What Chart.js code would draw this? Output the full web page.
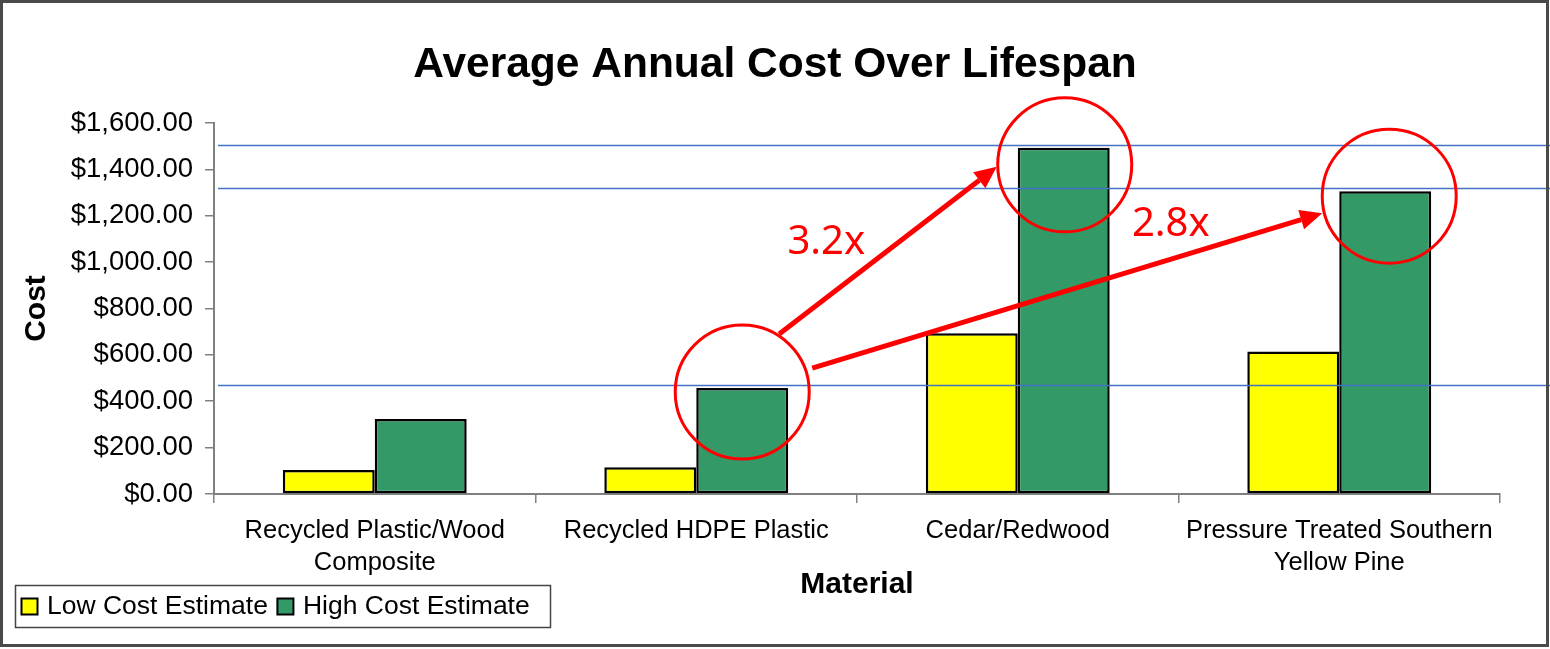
<!DOCTYPE html>
<html>
<head>
<meta charset="utf-8">
<script src="https://cdn.jsdelivr.net/npm/chart.js@4.4.1/dist/chart.umd.min.js"></script>
<style>
  html, body { margin: 0; padding: 0; background: #fff; }
  #wrap { width: 1550px; height: 649px; }
</style>
</head>
<body>
<div id="wrap"><canvas id="costChart" width="1550" height="649"></canvas></div>
<script>
// Gegevens uit de grafiek
const materials = [
    ['Recycled Plastic/Wood', 'Composite'],
    'Recycled HDPE Plastic',
    'Cedar/Redwood',
    ['Pressure Treated Southern', 'Yellow Pine']
];
const lowCost = [104, 115, 693, 615];
const highCost = [323, 457, 1493, 1306];
const seriesNames = ['Low Cost Estimate', 'High Cost Estimate'];
const yMin = 0, yMax = 1600, yStep = 200;

// Markeringen: omcirkelde balken (index in highCost) en de verhoudingen
const circledBars = [1, 2, 3];
const ratioLabels = ['3.2x', '2.8x'];

const FONT = '"Liberation Sans", Arial, sans-serif';

function money(v) {
    return '$' + v.toLocaleString('en-US', { minimumFractionDigits: 2, maximumFractionDigits: 2 });
}

function drawArrow(ctx, x1, y1, x2, y2) {
    const a = Math.atan2(y2 - y1, x2 - x1);
    const head = 22, half = 10;
    const bx = x2 - head * Math.cos(a), by = y2 - head * Math.sin(a);
    ctx.beginPath();
    ctx.moveTo(x1, y1);
    ctx.lineTo(bx, by);
    ctx.stroke();
    ctx.beginPath();
    ctx.moveTo(x2, y2);
    ctx.lineTo(bx + half * Math.sin(a), by - half * Math.cos(a));
    ctx.lineTo(bx - half * Math.sin(a), by + half * Math.cos(a));
    ctx.closePath();
    ctx.fill();
}

// Blauwe lijnen, rode cirkels, pijlen en teksten
const annotations = {
    id: 'annotations',
    afterDatasetsDraw(chart) {
        const { ctx, chartArea, scales: { y } } = chart;
        const high = chart.getDatasetMeta(1).data;
        ctx.save();

        ctx.strokeStyle = '#4472C4';
        ctx.lineWidth = 1.5;
        circledBars.forEach(i => {
            const py = Math.round(y.getPixelForValue(highCost[i])) - 2.5;
            ctx.beginPath();
            ctx.moveTo(chartArea.left + 4, py);
            ctx.lineTo(chart.width, py);
            ctx.stroke();
        });

        const shift = [[0, 4], [1, 17], [4, 5]];
        const c = circledBars.map((i, k) => ({
            x: high[i].x + shift[k][0],
            y: y.getPixelForValue(highCost[i]) + shift[k][1]
        }));

        ctx.strokeStyle = '#FF0000';
        ctx.fillStyle = '#FF0000';
        ctx.lineWidth = 3;
        c.forEach(p => {
            ctx.beginPath();
            ctx.arc(p.x, p.y, 67, 0, Math.PI * 2);
            ctx.stroke();
        });

        ctx.lineWidth = 5;
        drawArrow(ctx, c[0].x + 37, c[0].y - 58, c[1].x - 68, c[1].y + 2);
        drawArrow(ctx, c[0].x + 70, c[0].y - 24, c[2].x - 67, c[2].y + 17);

        ctx.font = '40px "Noto Sans", sans-serif';
        ctx.textAlign = 'center';
        ctx.textBaseline = 'alphabetic';
        ctx.fillText(ratioLabels[0], c[0].x + 84, c[0].y - 138);
        ctx.fillText(ratioLabels[1], c[1].x + 106, c[1].y + 71);
        ctx.restore();
    },
    afterDraw(chart) {
        const { ctx } = chart;
        const ds = chart.data.datasets;
        ctx.save();
        // legenda linksonder
        ctx.strokeStyle = '#444';
        ctx.lineWidth = 1.5;
        ctx.strokeRect(15.5, 585.5, 535, 42);
        ctx.font = '26.5px ' + FONT;
        ctx.textBaseline = 'middle';
        ctx.fillStyle = '#000';
        let x = 21;
        ds.forEach(d => {
            ctx.fillStyle = d.backgroundColor;
            ctx.fillRect(x, 598, 16, 16);
            ctx.lineWidth = 2;
            ctx.strokeStyle = '#000';
            ctx.strokeRect(x + 0.5, 598.5, 16, 16);
            ctx.fillStyle = '#000';
            ctx.fillText(d.label, x + 26, 607);
            x += 26 + ctx.measureText(d.label).width + 9;
        });
        // kader rond de hele grafiek
        ctx.strokeStyle = '#4a4a4a';
        ctx.lineWidth = 3;
        ctx.strokeRect(1.5, 1.5, 1546, 644);
        ctx.restore();
    }
};

const ctx = document.getElementById('costChart').getContext('2d');
const costChart = new Chart(ctx, {
    type: 'bar',
    data: {
        labels: materials,
        datasets: [{
            label: seriesNames[0],
            data: lowCost,
            backgroundColor: '#FFFF00',
            borderColor: '#000',
            borderWidth: 2.5,
            borderSkipped: false,
            categoryPercentage: 0.572,
            barPercentage: 1.0
        }, {
            label: seriesNames[1],
            data: highCost,
            backgroundColor: '#339966',
            borderColor: '#000',
            borderWidth: 2.5,
            borderSkipped: false,
            categoryPercentage: 0.572,
            barPercentage: 1.0
        }]
    },
    options: {
        responsive: false,
        animation: false,
        layout: { padding: { left: 0, right: 0, top: 0, bottom: 46 } },
        plugins: {
            legend: { display: false },
            tooltip: { enabled: false },
            title: {
                display: true,
                text: 'Average Annual Cost Over Lifespan',
                color: '#000',
                font: { family: FONT, size: 42.5, weight: 'bold', lineHeight: 1.2 },
                padding: { top: 40, bottom: 32 }
            }
        },
        scales: {
            x: {
                grid: { offset: true, drawOnChartArea: false, drawTicks: true, tickLength: 9, color: '#808080', lineWidth: 1.5 },
                border: { color: '#808080', width: 2 },
                ticks: {
                    color: '#000', padding: 12, maxRotation: 0, autoSkip: false,
                    font: { family: FONT, size: 25.5, lineHeight: 1.255 }
                },
                title: {
                    display: true, text: 'Material', color: '#000',
                    font: { family: FONT, size: 30, weight: 'bold', lineHeight: 1.2 },
                    padding: { top: -24, bottom: 0 }
                }
            },
            y: {
                min: yMin, max: yMax,
                grid: { drawOnChartArea: false, drawTicks: true, tickLength: 9, color: '#808080', lineWidth: 1.5 },
                border: { color: '#808080', width: 2 },
                ticks: {
                    stepSize: yStep, color: '#000', padding: 12,
                    font: { family: FONT, size: 27.5 },
                    callback: v => money(v)
                },
                title: {
                    display: true, text: 'Cost', color: '#000',
                    font: { family: FONT, size: 30, weight: 'bold', lineHeight: 1.2 },
                    padding: { top: 19, bottom: 0 }
                },
                afterFit(scale) { scale.width = 214; }
            },
            y2: {
                position: 'right',
                display: true,
                grid: { display: false },
                border: { display: false },
                ticks: { display: false },
                afterFit(scale) { scale.width = 50; }
            }
        }
    },
    plugins: [annotations]
});
</script>
</body>
</html>
